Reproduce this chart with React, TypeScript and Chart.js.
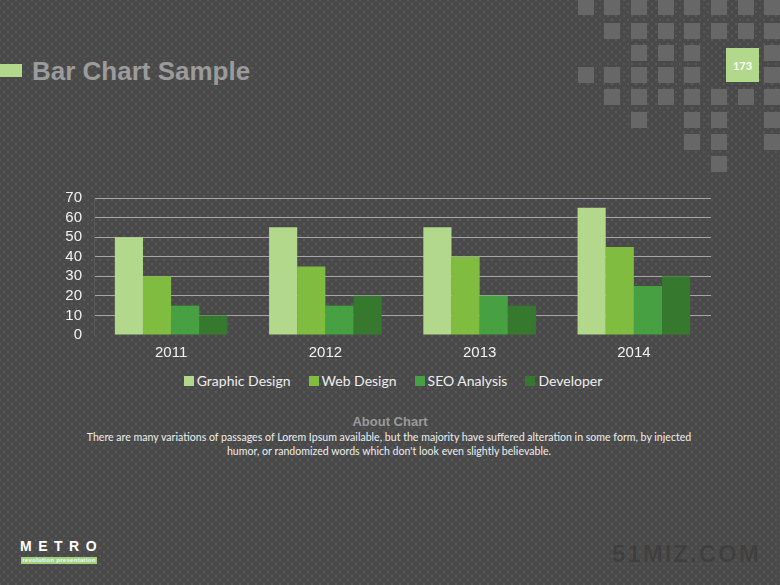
import React, { useEffect, useRef } from "react";
import { Chart, registerables } from "chart.js";

Chart.register(...registerables);

const years = ["2011", "2012", "2013", "2014"];
const graphicDesign = [50, 55, 55, 65];
const webDesign = [30, 35, 40, 45];
const seoAnalysis = [15, 15, 20, 25];
const developer = [10, 20, 15, 30];
const seriesNames = ["Graphic Design", "Web Design", "SEO Analysis", "Developer"];
const seriesColors = ["#b2d88c", "#80bc3f", "#47a041", "#35782e"];
const yMax = 70;
const yStep = 10;

// decorative square mosaic (top-right)
const squareCols = [578, 604, 631, 658, 684, 711, 738, 764];
const squareRows = [-1, 23, 45, 67, 89, 112, 134, 156];
const squareMap = [
  [0, 1, 2, 3, 4, 5, 6, 7],
  [1, 2, 3, 4, 5, 6, 7],
  [2, 3, 4, 7],
  [0, 1, 2, 3, 4, 7],
  [1, 2, 3, 4, 5, 6, 7],
  [2, 4, 5, 7],
  [4, 5, 7],
  [5],
];

const AXIS_FONT = "'Liberation Sans', Arial, sans-serif";

function BarChart() {
  const ref = useRef<HTMLCanvasElement | null>(null);
  useEffect(() => {
    if (!ref.current) return;
    const data = [graphicDesign, webDesign, seoAnalysis, developer];
    const chart = new Chart(ref.current, {
      type: "bar",
      data: {
        labels: years,
        datasets: seriesNames.map((name, i) => ({
          label: name,
          data: data[i],
          backgroundColor: seriesColors[i],
          borderWidth: 0,
          categoryPercentage: 0.73,
          barPercentage: 1,
        })),
      },
      options: {
        animation: false,
        responsive: false,
        maintainAspectRatio: false,
        layout: { padding: { left: 0, right: 69, top: 16, bottom: 0 } },
        plugins: {
          tooltip: { enabled: false },
          legend: { display: false },
        },
        scales: {
          x: {
            grid: { display: false, drawTicks: false },
            border: { display: false },
            ticks: {
              color: "#f2f2f2",
              font: { family: AXIS_FONT, size: 15 },
              padding: 9,
            },
          },
          y: {
            min: 0,
            max: yMax,
            afterFit: (scale: any) => {
              scale.width = 94;
            },
            ticks: {
              stepSize: yStep,
              autoSkip: false,
              color: "#f2f2f2",
              font: { family: AXIS_FONT, size: 15 },
              padding: 12,
            },
            grid: {
              drawTicks: false,
              color: (ctx: any) => (ctx.tick && ctx.tick.value === 0 ? "rgba(0,0,0,0)" : "#a6a6a6"),
              lineWidth: 1,
            },
            border: { display: true, color: "#595959" },
          },
        },
      },
    });
    return () => chart.destroy();
  }, []);
  return <canvas ref={ref} width={780} height={194} style={{ display: "block" }} />;
}

export default function App() {
  useEffect(() => {
    document.body.style.margin = "0";
  }, []);
  const squares: React.ReactNode[] = [];
  squareMap.forEach((cols, r) => {
    cols.forEach((c) => {
      squares.push(
        <div
          key={`${r}-${c}`}
          style={{
            position: "absolute",
            left: squareCols[c],
            top: squareRows[r],
            width: 16,
            height: 16,
            background: "#676767",
          }}
        />
      );
    });
  });
  return (
    <div
      style={{
        position: "fixed",
        left: 0,
        top: 0,
        width: 780,
        height: 585,
        overflow: "hidden",
        backgroundColor: "#4a4a4a",
        backgroundImage:
          "radial-gradient(circle, #585858 0.8px, transparent 1.3px), radial-gradient(circle, #585858 0.8px, transparent 1.3px)",
        backgroundSize: "8px 8px, 8px 8px",
        backgroundPosition: "0 0, 4px 4px",
        fontFamily: AXIS_FONT,
      }}
    >
      {squares}
      <div
        style={{
          position: "absolute",
          left: 726,
          top: 48,
          width: 33,
          height: 34,
          background: "#b2d88c",
          color: "#ffffff",
          fontFamily: "Lato",
          fontWeight: 700,
          fontSize: 11,
          display: "flex",
          alignItems: "center",
          justifyContent: "center",
        }}
      >
        173
      </div>
      <div style={{ position: "absolute", left: 0, top: 64, width: 22, height: 13, background: "#b2d88c" }} />
      <div
        style={{
          position: "absolute",
          left: 32,
          top: 56,
          fontSize: 26,
          fontWeight: 700,
          color: "#9b9b9b",
          whiteSpace: "nowrap",
          lineHeight: "30px",
        }}
      >
        Bar Chart Sample
      </div>
      <div style={{ position: "absolute", left: 0, top: 177 }}>
        <BarChart />
      </div>
      <div
        style={{
          position: "absolute",
          left: 0,
          width: 786,
          top: 372,
          display: "flex",
          justifyContent: "center",
          alignItems: "center",
          gap: 18,
          fontFamily: "Lato",
          fontSize: 14,
          lineHeight: "18px",
          color: "#eeeeee",
          whiteSpace: "nowrap",
        }}
      >
        {seriesNames.map((name, i) => (
          <div key={name} style={{ display: "flex", alignItems: "center", gap: 3 }}>
            <div style={{ width: 10, height: 10, background: seriesColors[i] }} />
            <span>{name}</span>
          </div>
        ))}
      </div>
      <div
        style={{
          position: "absolute",
          left: 0,
          width: 780,
          top: 414,
          textAlign: "center",
          fontSize: 13,
          fontWeight: 700,
          color: "#9b9b9b",
          lineHeight: "16px",
        }}
      >
        About Chart
      </div>
      <div
        style={{
          position: "absolute",
          left: 0,
          width: 778,
          top: 430,
          textAlign: "center",
          fontSize: 10.6,
          fontFamily: "Lato",
          color: "#eeeeee",
          lineHeight: "14px",
          whiteSpace: "nowrap",
        }}
      >
        There are many variations of passages of Lorem Ipsum available, but the majority have suffered alteration in some form, by injected
        <br />
        humor, or randomized words which don't look even slightly believable.
      </div>
      <div
        style={{
          position: "absolute",
          left: 20,
          top: 538,
          fontSize: 14,
          fontWeight: 700,
          color: "#ffffff",
          letterSpacing: 6.5,
          lineHeight: "17px",
          whiteSpace: "nowrap",
        }}
      >
        METRO
      </div>
      <div
        style={{
          position: "absolute",
          left: 21,
          top: 557,
          width: 76,
          height: 7,
          background: "#a6cf7c",
          color: "#f4f9ee",
          fontSize: 6,
          fontWeight: 700,
          lineHeight: "7px",
          textAlign: "center",
          whiteSpace: "nowrap",
          letterSpacing: 0.3,
        }}
      >
        revolution presentation
      </div>
      <div
        style={{
          position: "absolute",
          left: 612,
          top: 540,
          fontSize: 24,
          fontWeight: 700,
          color: "#3f3f3f",
          letterSpacing: 2,
          lineHeight: "28px",
          whiteSpace: "nowrap",
          textShadow: "0 0 1px #5a5a5a",
        }}
      >
        51MIZ.COM
      </div>
    </div>
  );
}
